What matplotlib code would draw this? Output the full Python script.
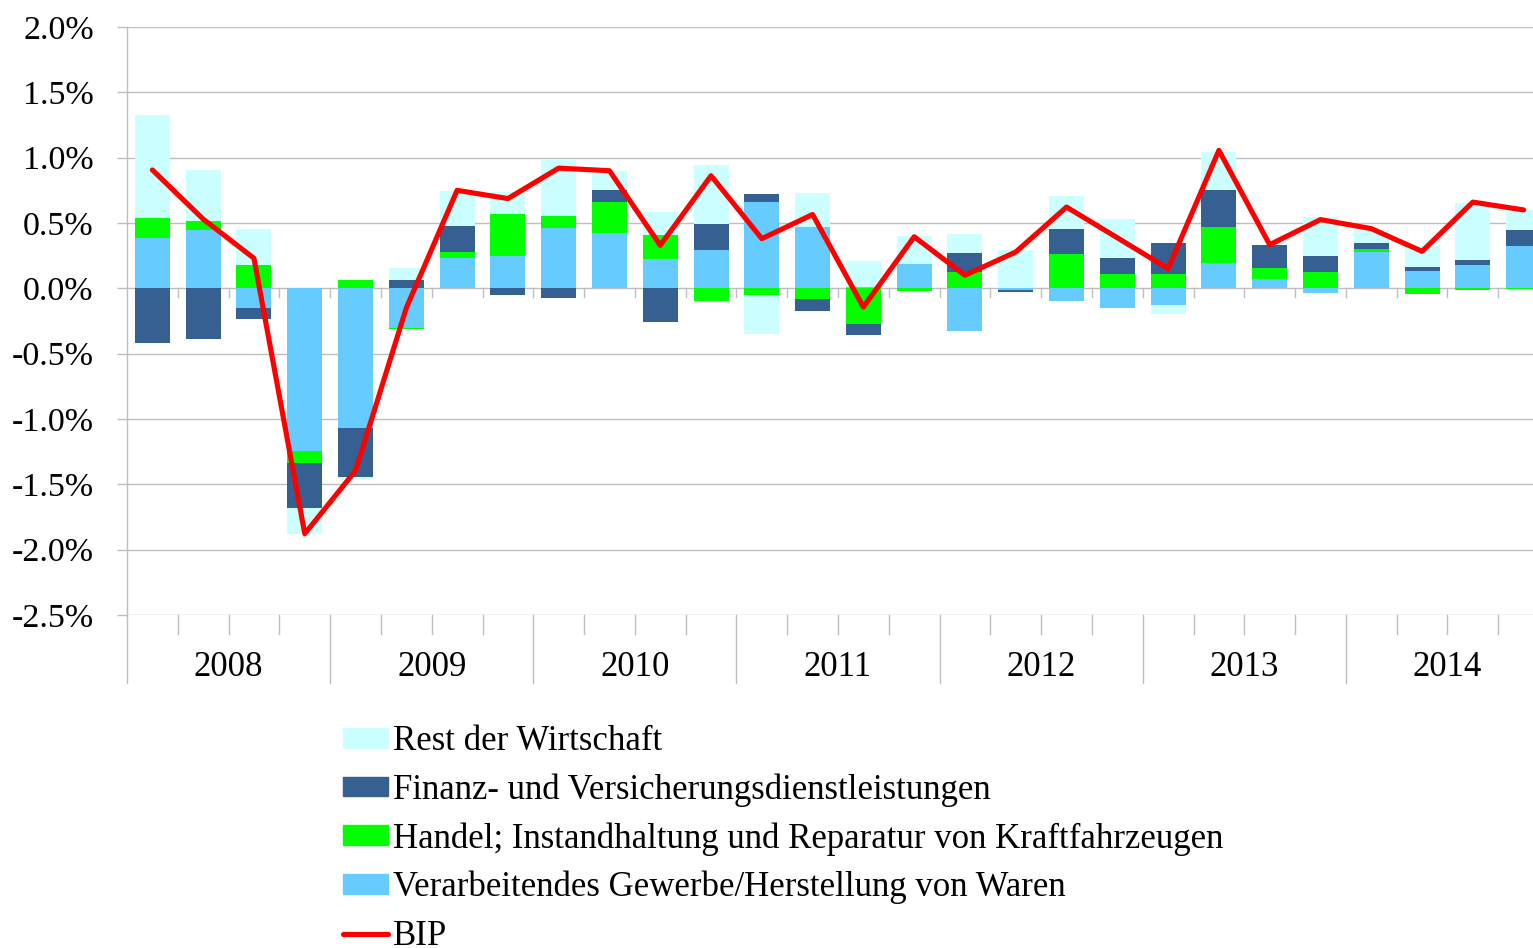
import numpy as np
import matplotlib
matplotlib.use("Agg")
import matplotlib.pyplot as plt
from matplotlib.patches import Patch
from matplotlib.lines import Line2D
from matplotlib.transforms import blended_transform_factory

plt.rcParams['font.family'] = ['Liberation Serif', 'DejaVu Serif']

# data (contributions to GDP growth, % q/q), 2008Q1 .. 2014Q4
years = ['2008', '2009', '2010', '2011', '2012', '2013', '2014']
verarb = [0.383, 0.446, -0.148, -1.245, -1.071, -0.300, 0.232, 0.245, 0.459, 0.426, 0.227, 0.296, 0.658, 0.467,
          0.008, 0.189, -0.324, -0.010, -0.094, -0.151, -0.125, 0.191, 0.074, -0.038, 0.276, 0.130, 0.181, 0.324]
handel = [0.155, 0.067, 0.176, -0.090, 0.061, -0.010, 0.048, 0.324, 0.094, 0.232, 0.178, -0.094, -0.054, -0.084,
          -0.276, -0.020, 0.125, 0.000, 0.263, 0.109, 0.107, 0.276, 0.079, 0.122, 0.028, -0.046, -0.010, -0.005]
finanz = [-0.421, -0.386, -0.089, -0.349, -0.373, 0.061, 0.199, -0.054, -0.077, 0.094, -0.258, 0.196, 0.067, -0.090,
          -0.082, 0.000, 0.145, -0.015, 0.191, 0.122, 0.240, 0.286, 0.176, 0.125, 0.041, 0.033, 0.038, 0.120]
rest = [0.786, 0.395, 0.280, -0.194, -0.018, 0.096, 0.266, 0.172, 0.440, 0.143, 0.181, 0.452, -0.296, 0.262,
        0.199, 0.211, 0.143, 0.293, 0.250, 0.298, -0.072, 0.291, 0.005, 0.301, 0.102, 0.158, 0.431, 0.155]
bip = [0.906, 0.530, 0.230, -1.878, -1.395, -0.150, 0.750, 0.687, 0.920, 0.900, 0.329, 0.862, 0.380, 0.565,
       -0.143, 0.395, 0.100, 0.278, 0.622, 0.387, 0.151, 1.056, 0.334, 0.526, 0.457, 0.283, 0.660, 0.600]

series = [
    ('Verarbeitendes Gewerbe/Herstellung von Waren', verarb, '#66CCFF'),
    ('Handel; Instandhaltung und Reparatur von Kraftfahrzeugen', handel, '#00FF00'),
    ('Finanz- und Versicherungsdienstleistungen', finanz, '#366092'),
    ('Rest der Wirtschaft', rest, '#CCFFFF'),
]

n = len(bip)
x = np.arange(n)

fig = plt.figure(figsize=(15.33, 9.48), dpi=100)
ax = fig.add_axes([127 / 1533, 1 - 615 / 948, (1549 - 127) / 1533, 588 / 948])

pos_base = np.zeros(n)
neg_base = np.zeros(n)
for name, vals, col in series:
    v = np.array(vals)
    bottom = np.where(v >= 0, pos_base, neg_base)
    ax.bar(x, v, 0.69, bottom=bottom, color=col, edgecolor='none', zorder=2)
    pos_base += np.where(v >= 0, v, 0)
    neg_base += np.where(v < 0, v, 0)

ax.plot(x, bip, color='#FF0000', lw=3.7, solid_joinstyle='round', solid_capstyle='round', zorder=4)

ax.set_xlim(-0.5, n - 0.5)
ax.set_ylim(-2.5, 2.0)
yt = np.arange(-2.5, 2.01, 0.5)
ax.set_yticks(yt)
ax.set_yticklabels(['%.1f%%' % v for v in yt], fontsize=24.5)
ax.tick_params(axis='y', length=7, width=1, color='#BFBFBF', pad=17)
ax.grid(axis='y', color='#BFBFBF', lw=1, zorder=0)
ax.set_axisbelow(True)
ax.set_xticks([])
for s in ['top', 'right', 'bottom']:
    ax.spines[s].set_visible(False)
ax.spines['left'].set_color('#BFBFBF')
ax.spines['left'].set_linewidth(1)
ax.spines['left'].set_bounds(-2.5, 2.0)

# category axis at zero and label area below the plot
trans = blended_transform_factory(ax.transData, ax.transAxes)
px = 1 / 588
ax.plot([-0.5, -0.5], [0, -68 * px], transform=trans, color='#BFBFBF', lw=1, clip_on=False)
for b in np.arange(0.5, n - 0.5, 1):
    ax.plot([b, b], [0, -9 * 4.5 / 588], color='#BFBFBF', lw=1, clip_on=False, zorder=1)
    if int(b + 0.5) % 4 == 0:
        ax.plot([b, b], [0, -68 * px], transform=trans, color='#BFBFBF', lw=1, clip_on=False)
    else:
        ax.plot([b, b], [0, -19 * px], transform=trans, color='#BFBFBF', lw=1, clip_on=False)
for i, yr in enumerate(years):
    ax.text(4 * i + 1.5, -52 * px, yr, transform=trans, ha='center', va='center', fontsize=25)

handles = [Patch(color=c) for _, _, c in series[::-1]]
handles.append(Line2D([0], [0], color='#FF0000', lw=3.7, solid_capstyle='round'))
labels = [s[0] for s in series[::-1]] + ['BIP']
fig.legend(handles, labels, loc='upper left', bbox_to_anchor=(343 / 1533, 1 - 725 / 948),
           frameon=False, fontsize=25, borderpad=0, borderaxespad=0, labelspacing=0.44,
           handlelength=1.3, handleheight=0.5, handletextpad=0.15)

fig.savefig('out.png', dpi=100)
